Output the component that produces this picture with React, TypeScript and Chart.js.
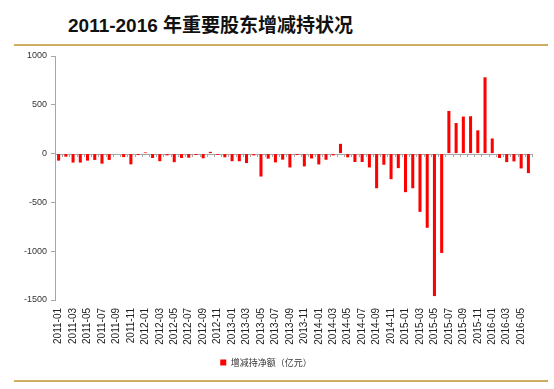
import React, { useEffect, useRef } from "react";
import { Chart, registerables } from "chart.js";

Chart.register(...registerables);

const months: string[] = [
  "2011-01", "2011-02", "2011-03", "2011-04", "2011-05", "2011-06",
  "2011-07", "2011-08", "2011-09", "2011-10", "2011-11", "2011-12",
  "2012-01", "2012-02", "2012-03", "2012-04", "2012-05", "2012-06",
  "2012-07", "2012-08", "2012-09", "2012-10", "2012-11", "2012-12",
  "2013-01", "2013-02", "2013-03", "2013-04", "2013-05", "2013-06",
  "2013-07", "2013-08", "2013-09", "2013-10", "2013-11", "2013-12",
  "2014-01", "2014-02", "2014-03", "2014-04", "2014-05", "2014-06",
  "2014-07", "2014-08", "2014-09", "2014-10", "2014-11", "2014-12",
  "2015-01", "2015-02", "2015-03", "2015-04", "2015-05", "2015-06",
  "2015-07", "2015-08", "2015-09", "2015-10", "2015-11", "2015-12",
  "2016-01", "2016-02", "2016-03", "2016-04", "2016-05", "2016-06",
];

const netChange: number[] = [
  -72, -32, -92, -92, -72, -65, -103, -65, -5, -36, -110, -15,
  12, -45, -78, -18, -88, -45, -42, -15, -48, 18, -13, -38,
  -78, -78, -97, -18, -235, -52, -90, -62, -142, -15, -131, -50,
  -111, -63, -18, 100, -38, -86, -86, -142, -355, -114, -262, -149,
  -395, -355, -597, -760, -1460, -1018, 437, 313, 379, 383, 238, 782,
  155, -45, -87, -80, -152, -200,
];

const yTicks: number[] = [1000, 500, 0, -500, -1000, -1500];

const titleText = "2011-2016 年重要股东增减持状况";
const seriesName = "增减持净额（亿元）";

const zeroLinePlugin = {
  id: "zeroLine",
  beforeDatasetsDraw(chart: any) {
    const { ctx, chartArea, scales } = chart;
    const y0 = scales.y.getPixelForValue(0);
    const n = months.length;
    const step = (chartArea.right - chartArea.left) / n;
    ctx.save();
    ctx.strokeStyle = "#a6a6a6";
    ctx.lineWidth = 1;
    ctx.beginPath();
    ctx.moveTo(chartArea.left, Math.round(y0) + 0.5);
    ctx.lineTo(chartArea.right, Math.round(y0) + 0.5);
    for (let i = 0; i <= n; i++) {
      const x = Math.round(chartArea.left + i * step) + 0.5;
      ctx.moveTo(x, Math.round(y0));
      ctx.lineTo(x, Math.round(y0) + 3);
    }
    ctx.stroke();
    ctx.restore();
  },
};

export default function App() {
  const canvasRef = useRef<HTMLCanvasElement | null>(null);

  useEffect(() => {
    if (!canvasRef.current) return;
    const chart = new Chart(canvasRef.current, {
      type: "bar",
      data: {
        labels: months,
        datasets: [
          {
            label: seriesName,
            data: netChange,
            backgroundColor: "#ff0000",
            borderWidth: 0,
            categoryPercentage: 1,
            barPercentage: 0.42,
          },
        ],
      },
      plugins: [zeroLinePlugin],
      options: {
        animation: false,
        responsive: false,
        maintainAspectRatio: false,
        layout: { padding: { top: 56, right: 22, left: 0, bottom: 12 } },
        plugins: {
          title: { display: false },
          tooltip: { enabled: false },
          legend: {
            position: "bottom",
            labels: {
              boxWidth: 6,
              boxHeight: 6,
              padding: 8,
              color: "#333",
              font: { family: "'Noto Sans CJK SC', sans-serif", size: 9 },
            },
          },
        },
        scales: {
          x: {
            type: "category",
            grid: { display: false, drawTicks: false },
            border: { display: false },
            ticks: {
              autoSkip: false,
              maxRotation: 90,
              minRotation: 90,
              padding: 8,
              color: "#222",
              font: { family: "'Liberation Sans', Arial, sans-serif", size: 10 },
              callback: (_v: any, i: number) => (i % 2 === 0 ? months[i] : ""),
            },
            afterFit: (scale: any) => {
              scale.height = 50;
            },
          },
          y: {
            min: -1500,
            max: 1000,
            afterBuildTicks: (scale: any) => {
              scale.ticks = yTicks.map((v) => ({ value: v }));
            },
            grid: {
              drawOnChartArea: false,
              drawTicks: true,
              tickLength: 4,
              color: "#a6a6a6",
            },
            border: { display: true, color: "#a6a6a6" },
            ticks: {
              padding: 4,
              color: "#333",
              font: { family: "'Liberation Sans', Arial, sans-serif", size: 9 },
              callback: (v: any) => String(v),
            },
            afterFit: (scale: any) => {
              scale.width = 55;
            },
          },
        },
      },
    });
    return () => chart.destroy();
  }, []);

  return (
    <div style={{ position: "absolute", left: 0, top: 0, width: 554, height: 389, background: "#fff" }}>
      <div
        style={{
          position: "absolute",
          left: 68,
          top: 16,
          fontFamily: "'Liberation Sans', 'Noto Sans CJK SC', sans-serif",
          fontWeight: "bold",
          fontSize: 19,
          lineHeight: "19px",
          whiteSpace: "nowrap",
          color: "#111",
        }}
      >
        {titleText}
      </div>
      <div style={{ position: "absolute", left: 14, top: 44, width: 534, height: 2, background: "#cdae5e" }} />
      <canvas ref={canvasRef} width={554} height={389} style={{ position: "absolute", left: 0, top: 0 }} />
      <div style={{ position: "absolute", left: 14, top: 380, width: 534, height: 2, background: "#cdae5e" }} />
    </div>
  );
}
